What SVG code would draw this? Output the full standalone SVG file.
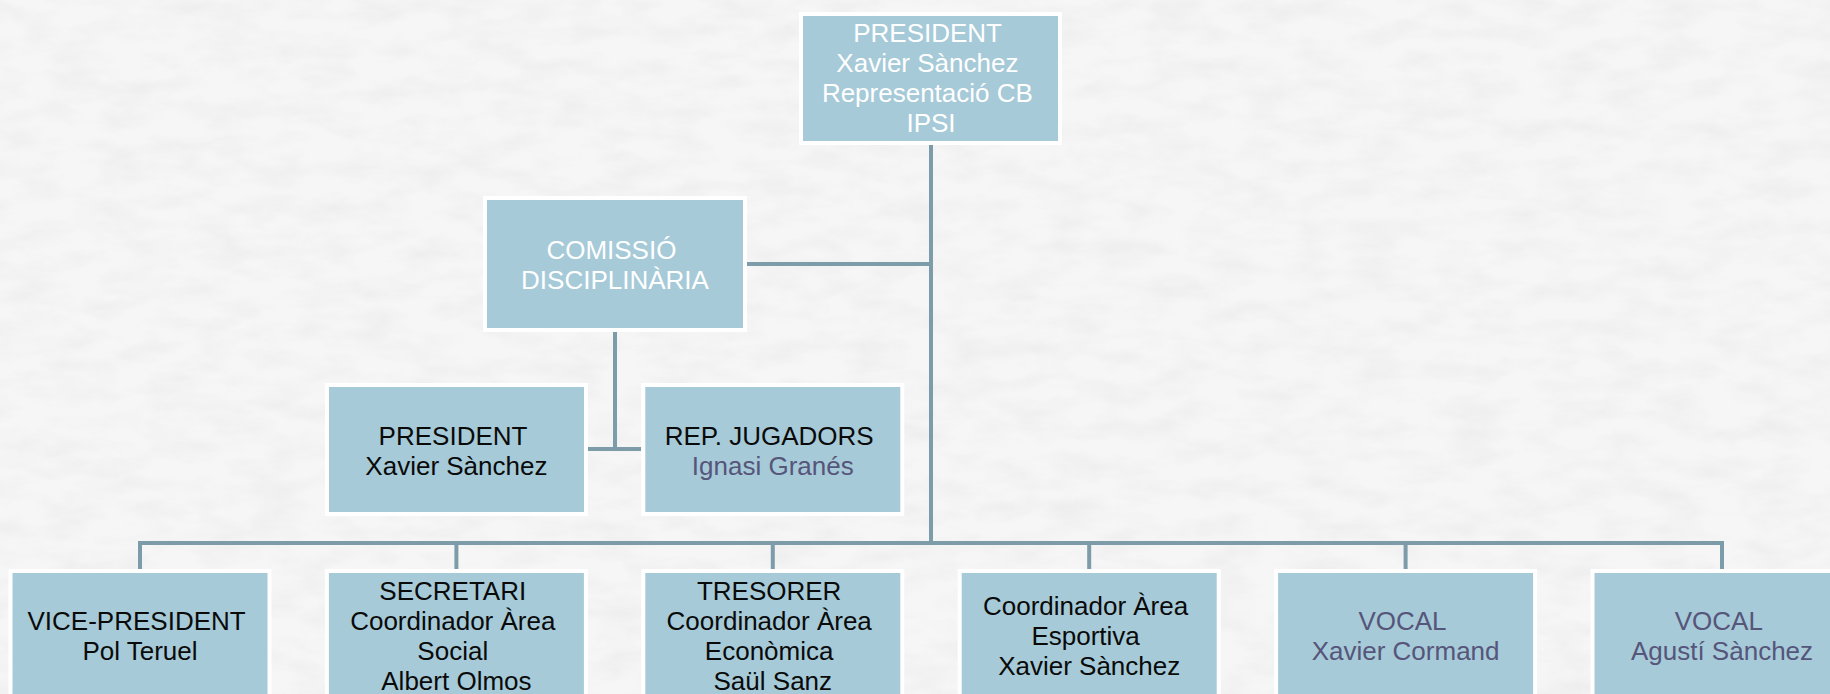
<svg xmlns="http://www.w3.org/2000/svg" width="1830" height="694" viewBox="0 0 1830 694">
  <defs>
    <filter id="paper" x="0" y="0" width="100%" height="100%">
      <feTurbulence type="fractalNoise" baseFrequency="0.02 0.05" numOctaves="4" seed="7" result="n"/>
      <feColorMatrix in="n" type="matrix" values="0 0 0 0 0.6  0 0 0 0 0.6  0 0 0 0 0.6  0 0 0 -1.6 1.0" result="g"/>
      <feComponentTransfer in="g">
        <feFuncA type="linear" slope="0.22" intercept="0"/>
      </feComponentTransfer>
    </filter>
    <style>
      .box { fill: #a6cad8; stroke: #ffffff; stroke-width: 4; }
      .conn { stroke: #7b9ca8; stroke-width: 4; fill: none; }
      .t { font-family: "Liberation Sans", Arial, sans-serif; font-size: 26px; text-anchor: middle; }
      .w { fill: #ffffff; }
      .k { fill: #0a0a0a; }
      .p { fill: #56557a; }
    </style>
  </defs>

  <rect x="0" y="0" width="1830" height="694" fill="#f6f6f6"/>
  <rect x="0" y="0" width="1830" height="694" filter="url(#paper)"/>

  <g id="connectors">
    <line class="conn" x1="931" y1="145" x2="931" y2="543"/>
    <line class="conn" x1="747" y1="264" x2="931" y2="264"/>
    <line class="conn" x1="615" y1="332" x2="615" y2="449"/>
    <line class="conn" x1="587" y1="449" x2="641" y2="449"/>
    <line class="conn" x1="140" y1="543" x2="1722" y2="543"/>
    <line class="conn" x1="140" y1="541" x2="140" y2="569"/>
    <line class="conn" x1="456.4" y1="543" x2="456.4" y2="569"/>
    <line class="conn" x1="772.8" y1="543" x2="772.8" y2="569"/>
    <line class="conn" x1="1089.2" y1="543" x2="1089.2" y2="569"/>
    <line class="conn" x1="1405.6" y1="543" x2="1405.6" y2="569"/>
    <line class="conn" x1="1722" y1="541" x2="1722" y2="569"/>
  </g>

  <g id="president">
    <rect class="box" x="801" y="14" width="259" height="129"/>
    <text class="t w">
      <tspan x="931" y="42">PRESIDENT</tspan>
      <tspan x="931" y="72">Xavier Sànchez</tspan>
      <tspan x="931" y="102">Representació CB</tspan>
      <tspan x="931" y="132">IPSI</tspan>
    </text>
  </g>

  <g id="comissio">
    <rect class="box" x="485" y="198" width="260" height="132"/>
    <text class="t w">
      <tspan x="615" y="259">COMISSIÓ</tspan>
      <tspan x="615" y="289">DISCIPLINÀRIA</tspan>
    </text>
  </g>

  <g id="comissio-president">
    <rect class="box" x="327" y="385" width="259" height="129"/>
    <text class="t k">
      <tspan x="456.4" y="445">PRESIDENT</tspan>
      <tspan x="456.4" y="475">Xavier Sànchez</tspan>
    </text>
  </g>

  <g id="rep-jugadors">
    <rect class="box" x="643.3" y="385" width="259" height="129"/>
    <text class="t">
      <tspan class="k" x="772.8" y="445">REP. JUGADORS</tspan>
      <tspan class="p" x="772.8" y="475">Ignasi Granés</tspan>
    </text>
  </g>

  <g id="vice-president">
    <rect class="box" x="10.5" y="571" width="259" height="130"/>
    <text class="t k">
      <tspan x="140" y="630">VICE-PRESIDENT</tspan>
      <tspan x="140" y="660">Pol Teruel</tspan>
    </text>
  </g>

  <g id="secretari">
    <rect class="box" x="326.9" y="571" width="259" height="130"/>
    <text class="t k">
      <tspan x="456.4" y="600">SECRETARI</tspan>
      <tspan x="456.4" y="630">Coordinador Àrea</tspan>
      <tspan x="456.4" y="660">Social</tspan>
      <tspan x="456.4" y="690">Albert Olmos</tspan>
    </text>
  </g>

  <g id="tresorer">
    <rect class="box" x="643.3" y="571" width="259" height="130"/>
    <text class="t k">
      <tspan x="772.8" y="600">TRESORER</tspan>
      <tspan x="772.8" y="630">Coordinador Àrea</tspan>
      <tspan x="772.8" y="660">Econòmica</tspan>
      <tspan x="772.8" y="690">Saül Sanz</tspan>
    </text>
  </g>

  <g id="esportiva">
    <rect class="box" x="959.7" y="571" width="259" height="130"/>
    <text class="t k">
      <tspan x="1089.2" y="615">Coordinador Àrea</tspan>
      <tspan x="1089.2" y="645">Esportiva</tspan>
      <tspan x="1089.2" y="675">Xavier Sànchez</tspan>
    </text>
  </g>

  <g id="vocal-1">
    <rect class="box" x="1276.1" y="571" width="259" height="130"/>
    <text class="t p">
      <tspan x="1405.6" y="630">VOCAL</tspan>
      <tspan x="1405.6" y="660">Xavier Cormand</tspan>
    </text>
  </g>

  <g id="vocal-2">
    <rect class="box" x="1592.5" y="571" width="259" height="130"/>
    <text class="t p">
      <tspan x="1722" y="630">VOCAL</tspan>
      <tspan x="1722" y="660">Agustí Sànchez</tspan>
    </text>
  </g>
</svg>
